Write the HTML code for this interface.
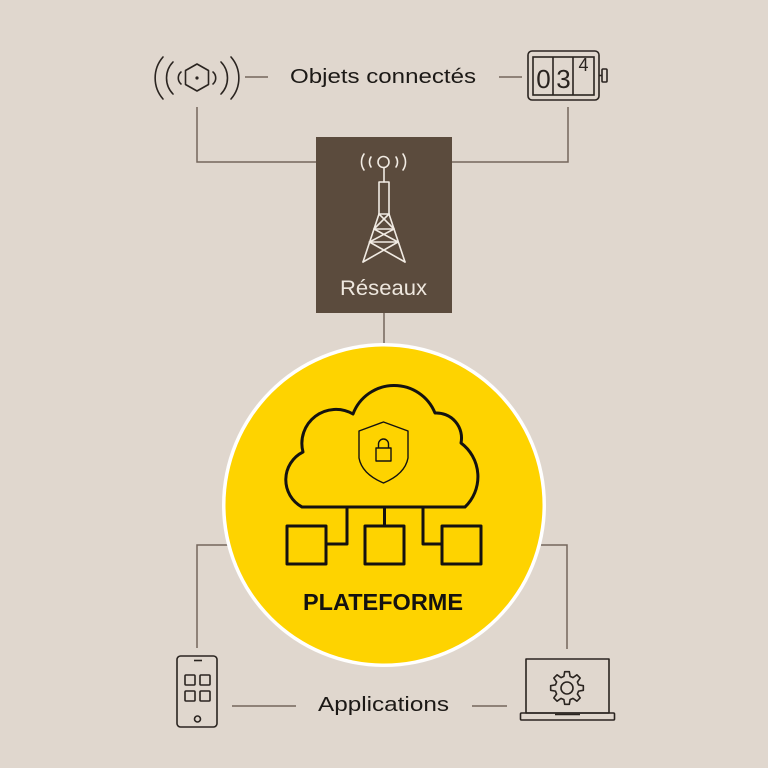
<!DOCTYPE html>
<html><head><meta charset="utf-8"><style>
html,body{margin:0;padding:0;background:#e0d7ce;}
svg{display:block;}
</style></head><body>
<svg width="768" height="768" viewBox="0 0 768 768" xmlns="http://www.w3.org/2000/svg">
<rect width="768" height="768" fill="#e0d7ce"/>
<!-- connectors -->
<g stroke="#74665c" stroke-width="1.5" fill="none">
<line x1="245" y1="77" x2="268" y2="77"/>
<line x1="499" y1="77" x2="522" y2="77"/>
<polyline points="197,107 197,162 316,162"/>
<polyline points="568,107 568,162 452,162"/>
<line x1="384" y1="313" x2="384" y2="344"/>
<polyline points="228,545 197,545 197,648"/>
<polyline points="541,545 567,545 567,649"/>
<line x1="232" y1="706" x2="296" y2="706"/>
<line x1="472" y1="706" x2="507" y2="706"/>
</g>
<!-- sensor icon -->
<g stroke="#2a2420" stroke-width="1.6" fill="none" stroke-linecap="round" stroke-linejoin="round">
<polygon points="197,64 208.5,70.5 208.5,84.5 197,91 185.5,84.5 185.5,70.5"/>
<path d="M163 57 A32 32 0 0 0 163 99"/>
<path d="M173 62 A23 23 0 0 0 173 94"/>
<path d="M181 72 A8 8 0 0 0 181 84"/>
<path d="M231 57 A32 32 0 0 1 231 99"/>
<path d="M221 62 A23 23 0 0 1 221 94"/>
<path d="M213 72 A8 8 0 0 1 213 84"/>
</g>
<circle cx="197" cy="78" r="1.6" fill="#2a2420"/>
<text x="290" y="83" font-family="Liberation Sans, sans-serif" font-size="20" fill="#1c1916" textLength="186" lengthAdjust="spacingAndGlyphs">Objets connectés</text>
<!-- meter -->
<g stroke="#2a2420" stroke-width="1.6" fill="none">
<rect x="528" y="51" width="71" height="49" rx="4"/>
<rect x="533" y="57" width="61" height="38"/>
<line x1="553" y1="57" x2="553" y2="95"/>
<line x1="573" y1="57" x2="573" y2="95"/>
<rect x="602" y="69" width="5" height="13" rx="1"/>
<line x1="599" y1="75.5" x2="602" y2="75.5"/>
</g>
<text x="543.5" y="88" font-family="Liberation Sans, sans-serif" font-size="26" fill="#2a2420" text-anchor="middle">0</text>
<text x="563.5" y="88" font-family="Liberation Sans, sans-serif" font-size="26" fill="#2a2420" text-anchor="middle">3</text>
<text x="583.5" y="71" font-family="Liberation Sans, sans-serif" font-size="18" fill="#2a2420" text-anchor="middle">4</text>
<!-- network box -->
<rect x="316" y="137" width="136" height="176" fill="#5b4b3d"/>
<g stroke="#f1ebe3" stroke-width="1.6" fill="none" stroke-linecap="round" stroke-linejoin="round">
<circle cx="383.5" cy="162" r="5.5"/>
<path d="M371 157 A9 9 0 0 0 371 167"/>
<path d="M364 154 A14 14 0 0 0 364 170"/>
<path d="M396 157 A9 9 0 0 1 396 167"/>
<path d="M403 154 A14 14 0 0 1 403 170"/>
<line x1="384" y1="167.5" x2="384" y2="182"/>
<rect x="379" y="182" width="10" height="32"/>
<line x1="379" y1="214" x2="363" y2="262"/>
<line x1="389" y1="214" x2="405" y2="262"/>
<line x1="379" y1="214" x2="394" y2="229"/>
<line x1="389" y1="214" x2="374" y2="229"/>
<line x1="374" y1="229" x2="394" y2="229"/>
<line x1="374" y1="229" x2="398" y2="242"/>
<line x1="394" y1="229" x2="369.5" y2="242"/>
<line x1="369.5" y1="242" x2="398" y2="242"/>
<line x1="369.5" y1="242" x2="405" y2="262"/>
<line x1="398" y1="242" x2="363" y2="262"/>
</g>
<text x="383.5" y="295" font-family="Liberation Sans, sans-serif" font-size="21" fill="#eee7de" text-anchor="middle" textLength="87" lengthAdjust="spacingAndGlyphs">Réseaux</text>
<!-- platform circle -->
<circle cx="384" cy="505" r="162" fill="#ffffff"/>
<circle cx="384" cy="505" r="158.5" fill="#fed300"/>
<g stroke="#141210" stroke-width="3" fill="none" stroke-linejoin="round">
<path d="M302 507 A31 31 0 0 1 303 452 A34 34 0 0 1 353 414 A44 44 0 0 1 435 413 A25 25 0 0 1 461 443 A42 42 0 0 1 465 507 Z"/>
<rect x="287" y="526" width="39" height="38"/>
<rect x="365" y="526" width="39" height="38"/>
<rect x="442" y="526" width="39" height="38"/>
<polyline points="347,507 347,544 326,544"/>
<line x1="384.5" y1="507" x2="384.5" y2="526"/>
<polyline points="423,507 423,544 442,544"/>
</g>
<g stroke="#141210" stroke-width="1.4" fill="none" stroke-linejoin="round">
<path d="M383.5 422 L408 431 L408 458 Q405 474 383.5 483 Q362 474 359 458 L359 431 Z"/>
<rect x="376" y="448" width="15" height="13"/>
<path d="M378.5 448 L378.5 444 A5 5 0 0 1 388.5 444 L388.5 448"/>
</g>
<text x="303" y="610" font-family="Liberation Sans, sans-serif" font-weight="bold" font-size="23.5" fill="#141210" textLength="160" lengthAdjust="spacingAndGlyphs">PLATEFORME</text>
<!-- phone -->
<g stroke="#2a2420" stroke-width="1.6" fill="none">
<rect x="177" y="656" width="40" height="71" rx="3.5"/>
<line x1="194" y1="660.5" x2="202" y2="660.5"/>
<rect x="185" y="675" width="10" height="10" rx="1"/>
<rect x="200" y="675" width="10" height="10" rx="1"/>
<rect x="185" y="691" width="10" height="10" rx="1"/>
<rect x="200" y="691" width="10" height="10" rx="1"/>
<circle cx="197.5" cy="719" r="3"/>
</g>
<text x="318" y="711" font-family="Liberation Sans, sans-serif" font-size="20" fill="#1c1916" textLength="131" lengthAdjust="spacingAndGlyphs">Applications</text>
<!-- laptop -->
<g stroke="#2a2420" stroke-width="1.6" fill="none" stroke-linejoin="round">
<rect x="526" y="659" width="83" height="54"/>
<rect x="520.5" y="713" width="94" height="7" rx="1"/>
<line x1="555" y1="714.5" x2="580" y2="714.5"/>
<polygon points="578.59,684.89 583.34,685.70 583.34,690.30 578.59,691.11 577.39,694 580.18,697.93 576.93,701.18 573,698.39 570.11,699.59 569.30,704.34 564.70,704.34 563.89,699.59 561,698.39 557.07,701.18 553.82,697.93 556.61,694 555.41,691.11 550.66,690.30 550.66,685.70 555.41,684.89 556.61,682 553.82,678.07 557.07,674.82 561,677.61 563.89,676.41 564.70,671.66 569.30,671.66 570.11,676.41 573,677.61 576.93,674.82 580.18,678.07 577.39,682"/>
<circle cx="567" cy="688" r="6"/>
</g>
</svg>
</body></html>
